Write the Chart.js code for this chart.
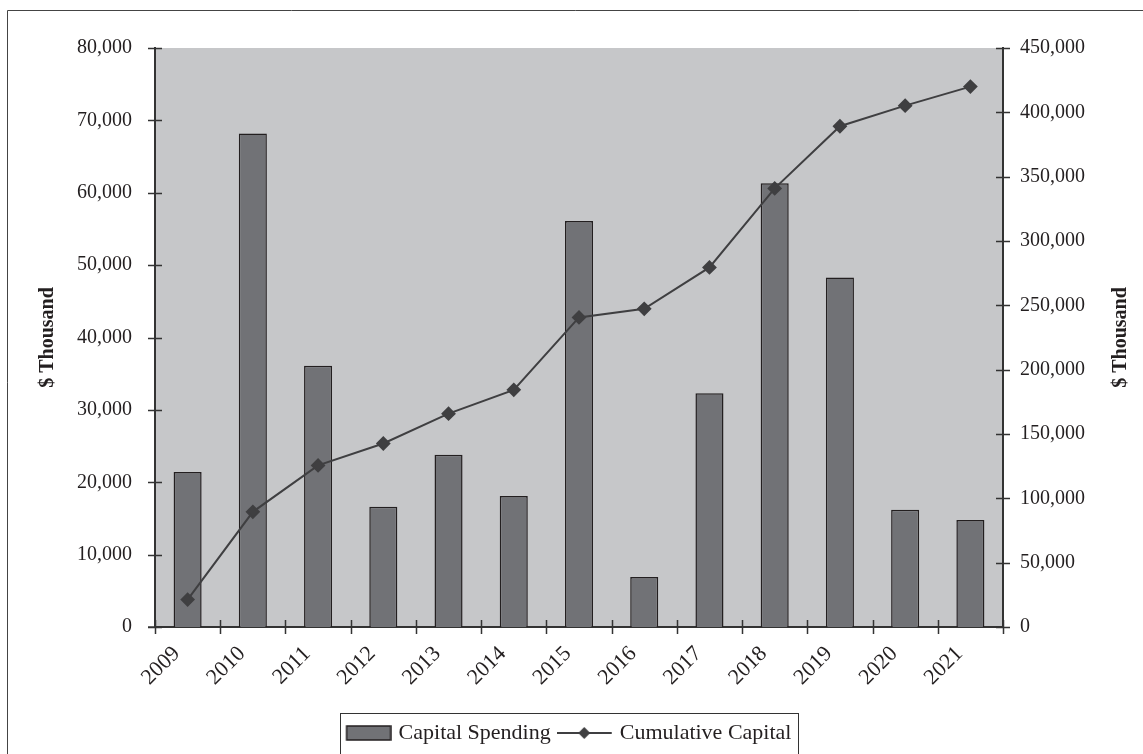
<!DOCTYPE html>
<html>
<head>
<meta charset="utf-8">
<script src="https://cdn.jsdelivr.net/npm/chart.js@4.4.1/dist/chart.umd.min.js"></script>
<style>
  html, body { margin: 0; padding: 0; background: #fff; }
  canvas { display: block; }
</style>
</head>
<body>
<canvas id="capitalChart" width="1143" height="754"></canvas>
<script>
// values ($ thousand)
var years = ['2009', '2010', '2011', '2012', '2013', '2014', '2015', '2016', '2017', '2018', '2019', '2020', '2021'];
var capitalSpending = [21400, 68200, 36100, 16600, 23800, 18100, 56100, 6900, 32300, 61300, 48300, 16200, 14800];
var cumulativeCapital = [21300, 89500, 125600, 142600, 165800, 184300, 240600, 247300, 279500, 340900, 389200, 405200, 420000];
var seriesNames = ['Capital Spending', 'Cumulative Capital'];
var axisTitle = '$ Thousand';
var leftMax = 80000, leftStep = 10000;
var rightMax = 450000, rightStep = 50000;

var serif = "'Liberation Serif', 'Times New Roman', serif";
var ink = '#231f20';
var barFill = '#717276';
var lineColor = '#3f3f41';

// legend swatches (bar box, line with diamond); drawn wider than the box so they sit close to the text
function makeSwatch(kind) {
    var c = document.createElement('canvas');
    c.width = 56;
    c.height = 18;
    var g = c.getContext('2d');
    if (kind === 'bar') {
        g.fillStyle = barFill;
        g.fillRect(11, 2, 44, 14);
        g.strokeStyle = ink;
        g.lineWidth = 1.5;
        g.strokeRect(11, 2, 44, 14);
    } else {
        g.strokeStyle = lineColor;
        g.lineWidth = 2;
        g.beginPath();
        g.moveTo(0, 9);
        g.lineTo(55, 9);
        g.stroke();
        g.fillStyle = lineColor;
        g.beginPath();
        g.moveTo(27.5, 3);
        g.lineTo(33.5, 9);
        g.lineTo(27.5, 15);
        g.lineTo(21.5, 9);
        g.closePath();
        g.fill();
    }
    return c;
}
var swatches = [makeSwatch('bar'), makeSwatch('line')];

var chartDecor = {
    id: 'chartDecor',
    beforeDraw: function(chart) {
        var ctx = chart.ctx, a = chart.chartArea;
        ctx.save();
        ctx.fillStyle = '#fff';
        ctx.fillRect(0, 0, chart.width, chart.height);
        ctx.fillStyle = '#c6c7c9';
        ctx.fillRect(a.left, a.top, a.right - a.left, a.bottom - a.top);
        // outer frame
        ctx.strokeStyle = '#444';
        ctx.lineWidth = 1;
        ctx.beginPath();
        ctx.moveTo(7.5, chart.height);
        ctx.lineTo(7.5, 10.5);
        ctx.lineTo(chart.width, 10.5);
        ctx.stroke();
        ctx.restore();
    },
    afterDraw: function(chart) {
        var ctx = chart.ctx, a = chart.chartArea;
        var x = chart.scales.x, y = chart.scales.y, y1 = chart.scales.y1;
        ctx.save();
        ctx.strokeStyle = '#333';
        ctx.lineWidth = 1.5;
        ctx.beginPath();
        y.ticks.forEach(function(t) {
            var py = Math.round(y.getPixelForValue(t.value)) + 0.5;
            ctx.moveTo(a.left - 7, py);
            ctx.lineTo(a.left + 7, py);
        });
        y1.ticks.forEach(function(t) {
            var py = Math.round(y1.getPixelForValue(t.value)) + 0.5;
            ctx.moveTo(a.right - 7, py);
            ctx.lineTo(a.right + 7, py);
        });
        var half = (x.getPixelForValue(1) - x.getPixelForValue(0)) / 2;
        for (var i = 0; i <= years.length; i++) {
            var px = Math.round(x.getPixelForValue(i) - half) + 0.5;
            ctx.moveTo(px, a.bottom - 7);
            ctx.lineTo(px, a.bottom + 7);
        }
        ctx.moveTo(a.left - 7, a.bottom);
        ctx.lineTo(a.left, a.bottom);
        ctx.stroke();

        // right axis title, reading upwards like the left one
        ctx.fillStyle = ink;
        ctx.font = 'bold 20px ' + serif;
        ctx.textAlign = 'center';
        ctx.textBaseline = 'middle';
        ctx.translate(1121, (a.top + a.bottom) / 2);
        ctx.rotate(-Math.PI / 2);
        ctx.fillText(axisTitle, 0, 0);
        ctx.setTransform(1, 0, 0, 1, 0, 0);

        // legend frame
        var boxes = chart.legend.legendHitBoxes;
        if (boxes && boxes.length) {
            var first = boxes[0], last = boxes[boxes.length - 1];
            var l = first.left, r = last.left + last.width + 6;
            ctx.strokeStyle = '#333';
            ctx.lineWidth = 1;
            ctx.strokeRect(Math.round(l) + 0.5, Math.round(chart.legend.top) + 1.5, Math.round(r - l), chart.height);
        }
        ctx.restore();
    }
};

var ctx = document.getElementById('capitalChart').getContext('2d');
var myChart = new Chart(ctx, {
    data: {
        labels: years,
        datasets: [
            {
                type: 'bar',
                label: seriesNames[0],
                data: capitalSpending,
                yAxisID: 'y',
                backgroundColor: barFill,
                borderColor: ink,
                borderWidth: 1.5,
                barPercentage: 0.43,
                categoryPercentage: 1,
                order: 2
            },
            {
                type: 'line',
                label: seriesNames[1],
                data: cumulativeCapital,
                yAxisID: 'y1',
                borderColor: lineColor,
                borderWidth: 2,
                pointStyle: 'rectRot',
                pointRadius: 6,
                pointBackgroundColor: lineColor,
                pointBorderColor: lineColor,
                tension: 0,
                order: 1
            }
        ]
    },
    options: {
        responsive: false,
        animation: false,
        layout: { padding: { left: 8, top: 48, right: 20, bottom: 0 } },
        plugins: {
            tooltip: { enabled: false },
            legend: {
                position: 'bottom',
                labels: {
                    usePointStyle: true,
                    pointStyleWidth: 48,
                    padding: 10,
                    color: ink,
                    font: { family: serif, size: 22 },
                    generateLabels: function(chart) {
                        return chart.data.datasets.map(function(ds, i) {
                            return {
                                text: ds.label,
                                pointStyle: swatches[i],
                                datasetIndex: i,
                                hidden: false,
                                lineWidth: 0,
                                fillStyle: 'transparent',
                                strokeStyle: 'transparent',
                                fontColor: ink
                            };
                        });
                    }
                }
            }
        },
        scales: {
            x: {
                offset: true,
                grid: { display: false, offset: true, drawTicks: false },
                border: { display: true, color: '#333', width: 2 },
                ticks: {
                    color: ink,
                    font: { family: serif, size: 22 },
                    minRotation: 45,
                    maxRotation: 45,
                    padding: 14,
                    labelOffset: -11
                },
                afterFit: function(scale) { scale.height = 85; }
            },
            y: {
                position: 'left',
                min: 0,
                max: leftMax,
                grid: { display: false, drawTicks: false },
                border: { display: true, color: '#333', width: 2 },
                ticks: {
                    stepSize: leftStep,
                    color: ink,
                    padding: 23,
                    font: { family: serif, size: 20 },
                    callback: function(v) { return v.toLocaleString('en-US'); }
                },
                title: {
                    display: true,
                    text: axisTitle,
                    color: ink,
                    font: { family: serif, size: 20, weight: 'bold' },
                    padding: { top: 28, bottom: 0 }
                },
                afterFit: function(scale) { scale.width = 147; }
            },
            y1: {
                position: 'right',
                min: 0,
                max: rightMax,
                grid: { display: false, drawTicks: false },
                border: { display: true, color: '#333', width: 2 },
                ticks: {
                    stepSize: rightStep,
                    color: ink,
                    padding: 17,
                    font: { family: serif, size: 20 },
                    callback: function(v) { return v.toLocaleString('en-US'); }
                },
                afterFit: function(scale) { scale.width = 120; }
            }
        }
    },
    plugins: [chartDecor]
});
</script>
</body>
</html>
